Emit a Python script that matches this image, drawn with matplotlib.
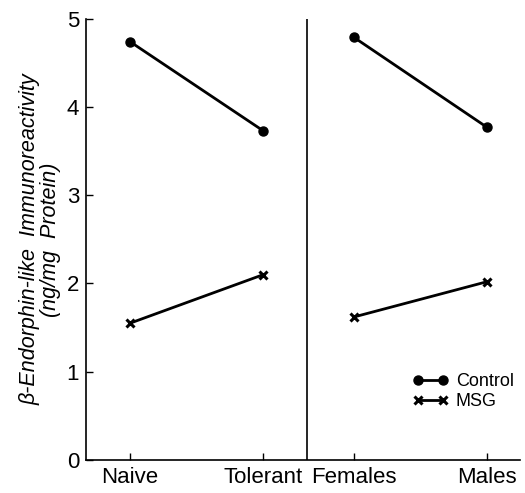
import matplotlib
matplotlib.use('Agg')
import matplotlib.pyplot as plt

# groups and values
groups_left = ['Naive', 'Tolerant']
groups_right = ['Females', 'Males']
control_left = [4.74, 3.73]
msg_left = [1.55, 2.10]
control_right = [4.79, 3.77]
msg_right = [1.62, 2.02]

x_left = [0, 1]
x_right = [1.68, 2.68]
divider = 1.33

plt.rcParams['font.family'] = ['Liberation Sans', 'DejaVu Sans']

fig = plt.figure(figsize=(5.25, 4.93), dpi=100)
ax = fig.add_axes([0.164, 0.067, 0.827, 0.895])

ax.plot(x_left, control_left, color='black', lw=2, marker='o', ms=6.5, label='Control')
ax.plot(x_left, msg_left, color='black', lw=2, marker='x', ms=6, mew=2.2, label='MSG')
ax.plot(x_right, control_right, color='black', lw=2, marker='o', ms=6.5)
ax.plot(x_right, msg_right, color='black', lw=2, marker='x', ms=6, mew=2.2)

ax.axvline(divider, color='black', lw=1.2)

ax.set_xlim(-0.33, 2.93)
ax.set_ylim(0, 5)
ax.set_xticks(x_left + x_right)
ax.set_xticklabels(groups_left + groups_right, fontsize=16)
ax.set_yticks([0, 1, 2, 3, 4, 5])
ax.tick_params(direction='in', length=5, width=1, labelsize=16, pad=5)
ax.tick_params(axis='y', pad=5)

for s in ['top', 'right']:
    ax.spines[s].set_visible(False)
for s in ['left', 'bottom']:
    ax.spines[s].set_linewidth(1.2)

ax.set_ylabel('β-Endorphin-like  Immunoreactivity\n(ng/mg  Protein)',
              fontsize=15.5, style='italic', labelpad=4, linespacing=1.0)

ax.legend(loc='center left', bbox_to_anchor=(0.735, 0.155), frameon=False,
          numpoints=2, handlelength=2.0, handletextpad=0.4, fontsize=13,
          labelspacing=0.15, borderaxespad=0)

fig.savefig('out.png', dpi=100)
